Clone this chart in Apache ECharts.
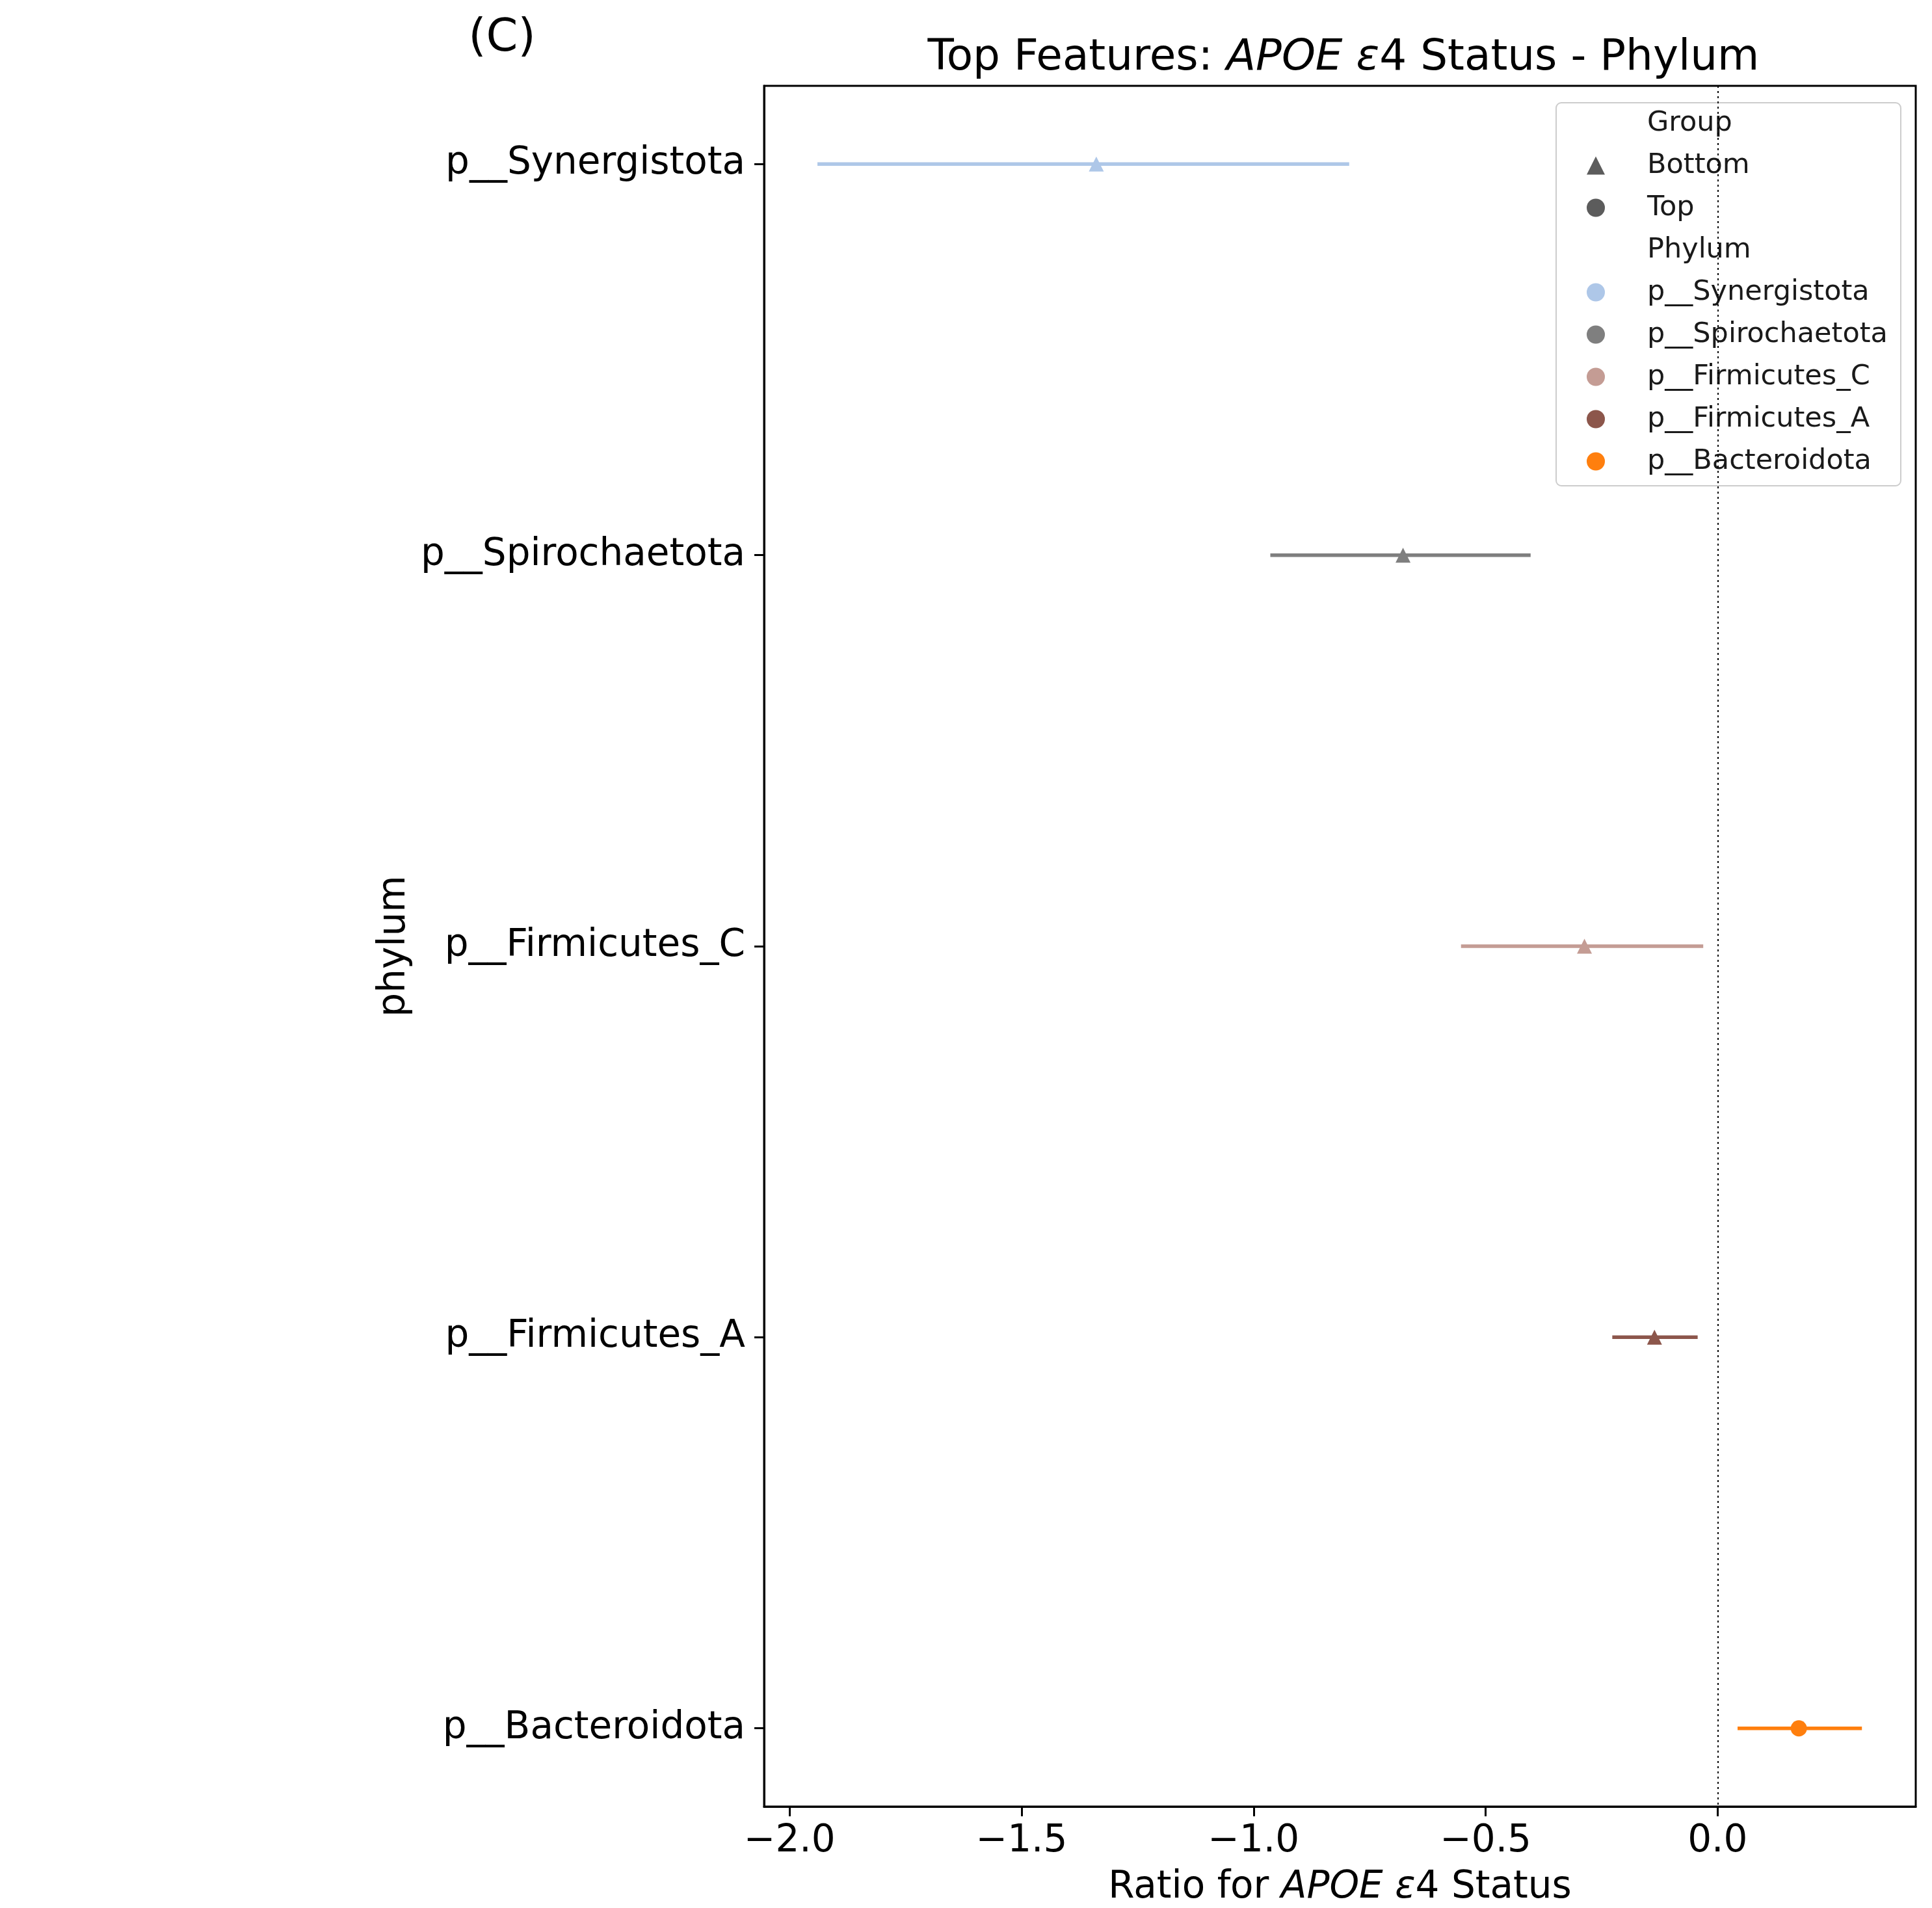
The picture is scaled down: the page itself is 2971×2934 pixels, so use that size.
<!DOCTYPE html>
<html>
<head>
<meta charset="utf-8">
<script src="https://cdn.jsdelivr.net/npm/echarts@6/dist/echarts.min.js"></script>
<style>
html,body{margin:0;padding:0;background:#fff;}
#chart{width:2971px;height:2934px;}
</style>
</head>
<body>
<div id="chart"></div>
<script>
const categories = ['p__Synergistota', 'p__Spirochaetota', 'p__Firmicutes_C', 'p__Firmicutes_A', 'p__Bacteroidota'];
const meanValues = [-1.339, -0.678, -0.287, -0.136, 0.175];
const lowValues = [-1.940, -0.964, -0.553, -0.227, 0.043];
const highValues = [-0.794, -0.403, -0.031, -0.043, 0.311];
const groups = ['Bottom', 'Bottom', 'Bottom', 'Bottom', 'Top'];
const xTicks = [-2.0, -1.5, -1.0, -0.5, 0.0];
const yTicks = [0, 1, 2, 3, 4];
const colors = ['#aec7e8', '#7f7f7f', '#c49c94', '#8c564b', '#ff7f0e'];

const FONT = 'DejaVu Sans';
const chart = echarts.init(document.getElementById('chart'));

const errData = categories.map((c, i) => [i, lowValues[i], highValues[i]]);

const series = [];
series.push({
  type: 'custom',
  name: 'errorbars',
  z: 2,
  data: errData,
  encode: { x: [1, 2], y: 0 },
  renderItem: function (params, api) {
    const i = api.value(0);
    const p1 = api.coord([api.value(1), i]);
    const p2 = api.coord([api.value(2), i]);
    return {
      type: 'line',
      shape: { x1: p1[0], y1: p1[1], x2: p2[0], y2: p2[1] },
      style: { stroke: colors[params.dataIndex], lineWidth: 5.5 }
    };
  },
  markLine: {
    silent: true,
    symbol: 'none',
    label: { show: false },
    lineStyle: { color: '#000', type: [3, 5], width: 2 },
    data: [{ xAxis: 0 }]
  }
});
// legend-only helper series
series.push({ type: 'scatter', name: 'Group', data: [] });
series.push({ type: 'scatter', name: 'Bottom', data: [], symbol: 'triangle', itemStyle: { color: '#333333' } });
series.push({ type: 'scatter', name: 'Top', data: [], symbol: 'circle', itemStyle: { color: '#333333' } });
series.push({ type: 'scatter', name: 'Phylum', data: [] });
categories.forEach((c, i) => {
  series.push({
    type: 'scatter',
    name: c,
    z: 3,
    symbol: groups[i] === 'Bottom' ? 'triangle' : 'circle',
    symbolSize: groups[i] === 'Bottom' ? 23 : 25,
    itemStyle: { color: colors[i], opacity: 1 },
    data: [[meanValues[i], i]]
  });
});

const fmtX = v => (v < 0 ? '\u2212' : '') + Math.abs(v).toFixed(1);

const option = {
  backgroundColor: '#ffffff',
  animation: false,
  textStyle: { fontFamily: FONT },
  title: [
    {
      text: 'Top Features: {i|APOE ε}4 Status - Phylum',
      left: 2061,
      top: 52,
      textAlign: 'center',
      textStyle: {
        fontSize: 66, fontWeight: 'normal', color: '#000', fontFamily: FONT,
        rich: { i: { fontSize: 66, fontStyle: 'italic', color: '#000', fontFamily: FONT } }
      }
    },
    {
      text: '(C)',
      left: 767,
      top: 20,
      textAlign: 'center',
      textStyle: { fontSize: 70, fontWeight: 'normal', color: '#000', fontFamily: FONT }
    }
  ],
  legend: {
    orient: 'vertical',
    left: 2393,
    top: 158,
    itemWidth: 28,
    itemHeight: 28,
    itemGap: 22,
    padding: [10, 20, 16, 47],
    backgroundColor: 'rgba(255,255,255,0.8)',
    borderColor: '#cccccc',
    borderWidth: 2,
    borderRadius: 8,
    selectedMode: false,
    textStyle: { fontSize: 43, lineHeight: 43, color: '#1a1a1a', fontFamily: FONT, padding: [0, 0, 0, 60] },
    data: [
      { name: 'Group', icon: 'none' },
      { name: 'Bottom', icon: 'triangle' },
      { name: 'Top', icon: 'circle' },
      { name: 'Phylum', icon: 'none' }
    ].concat(categories.map(c => ({ name: c, icon: 'circle' })))
  },
  grid: {
    left: 1175, right: 25, top: 132, bottom: 156,
    outerBoundsMode: 'none',
    show: true, borderColor: '#000', borderWidth: 3, backgroundColor: 'transparent'
  },
  xAxis: {
    type: 'value',
    min: -2.055,
    max: 0.427,
    name: 'Ratio for {i|APOE ε}4 Status',
    nameLocation: 'middle',
    nameGap: 96,
    nameTextStyle: {
      fontSize: 58, color: '#000', fontFamily: FONT,
      rich: { i: { fontSize: 58, fontStyle: 'italic', color: '#000', fontFamily: FONT } }
    },
    axisLine: { show: true, onZero: false, lineStyle: { color: '#000', width: 3 } },
    axisTick: { show: true, length: 15, lineStyle: { color: '#000', width: 3 }, customValues: xTicks },
    axisLabel: { fontSize: 58, color: '#000', margin: 25, fontFamily: FONT, customValues: xTicks, formatter: fmtX },
    splitLine: { show: false }
  },
  yAxis: {
    type: 'value',
    min: -0.2,
    max: 4.2,
    inverse: true,
    name: 'phylum',
    nameLocation: 'middle',
    nameGap: 536,
    nameRotate: 90,
    nameTextStyle: { fontSize: 58, color: '#000', fontFamily: FONT },
    axisLine: { show: true, onZero: false, lineStyle: { color: '#000', width: 3 } },
    axisTick: { show: true, length: 15, lineStyle: { color: '#000', width: 3 }, customValues: yTicks },
    axisLabel: { fontSize: 58, color: '#000', margin: 29, fontFamily: FONT, customValues: yTicks, formatter: v => categories[Math.round(v)] },
    splitLine: { show: false }
  },
  series: series
};
chart.setOption(option);
</script>
</body>
</html>
